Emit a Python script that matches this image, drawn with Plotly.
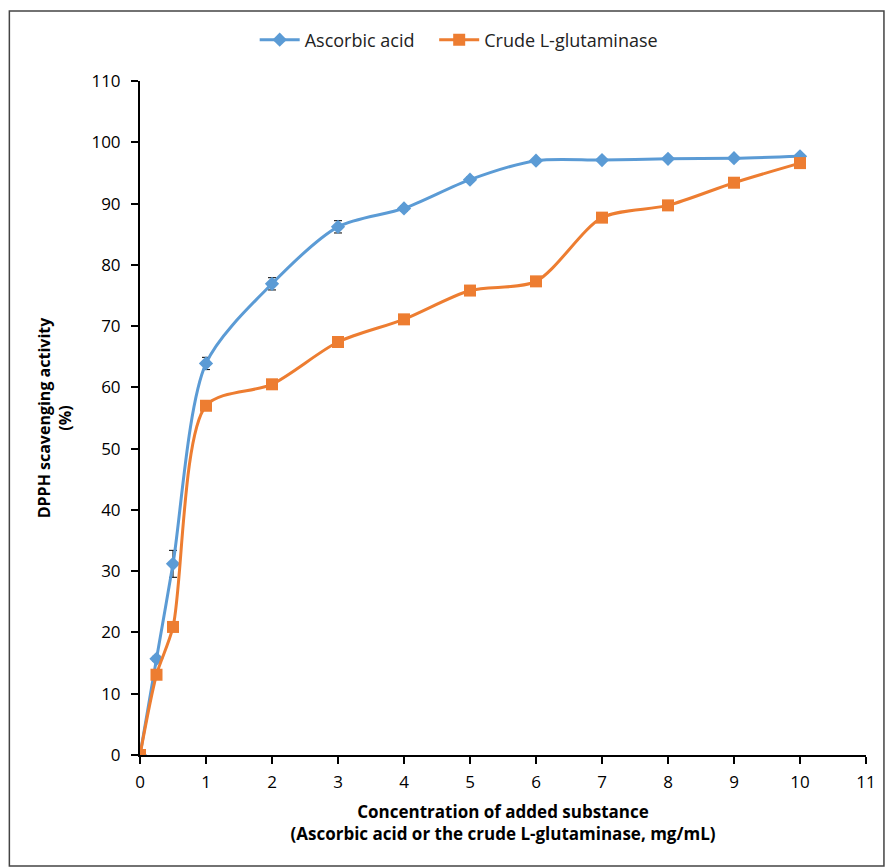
import plotly.graph_objects as go

conc = [0, 0.25, 0.5, 1, 2, 3, 4, 5, 6, 7, 8, 9, 10]
ascorbic = [0, 15.7, 31.2, 63.9, 76.9, 86.2, 89.2, 93.9, 97.0, 97.1, 97.3, 97.4, 97.7]
ascorbic_err = [0, 0.4, 2.2, 1.0, 1.0, 1.0, 0.4, 0.4, 0.3, 0.3, 0.3, 0.3, 0.3]
crude = [0, 13.1, 20.9, 57.0, 60.5, 67.4, 71.1, 75.8, 77.3, 87.7, 89.7, 93.4, 96.6]

x_ticks = list(range(0, 12))
y_ticks = list(range(0, 111, 10))

FONT = "Open Sans"

fig = go.Figure()
fig.add_trace(go.Scatter(
    x=conc, y=ascorbic, name="Ascorbic acid", mode="lines+markers",
    line=dict(color="#5B9BD5", width=3, shape="spline", smoothing=0.8),
    marker=dict(symbol="diamond", size=11, color="#5B9BD5"),
    error_y=dict(type="data", array=ascorbic_err, color="black", thickness=1, width=4),
    legend="legend",
))
fig.add_trace(go.Scatter(
    x=conc, y=crude, name="Crude L-glutaminase", mode="lines+markers",
    line=dict(color="#ED7D31", width=3, shape="spline", smoothing=0.8),
    marker=dict(symbol="square", size=12, color="#ED7D31"),
    legend="legend2",
))

L, R, T, B = 140, 20, 81, 112
W, H = 888, 867
pw, ph = W - L - R, H - T - B

leg_common = dict(orientation="h", xanchor="left", yanchor="middle",
                  y=(H - B - 40) / ph, font=dict(size=18, color="#222"),
                  itemwidth=40, bgcolor="rgba(0,0,0,0)")

fig.update_layout(
    width=W, height=H,
    margin=dict(l=L, r=R, t=T, b=B),
    paper_bgcolor="white", plot_bgcolor="white",
    font=dict(family=FONT, size=17, color="black"),
    showlegend=True,
    legend=dict(x=(255 - L) / pw, **leg_common),
    legend2=dict(x=(435 - L) / pw, **leg_common),
    xaxis=dict(range=[0, 11], tickvals=x_ticks, showline=True, linecolor="black",
               linewidth=2, ticks="outside", ticklen=7, tickwidth=1.5, tickcolor="black",
               ticklabelstandoff=4,
               showgrid=False, zeroline=False,
               title=dict(text="<b>Concentration of added substance<br>(Ascorbic acid or the crude L-glutaminase, mg/mL)</b>",
                          font=dict(size=17), standoff=14)),
    yaxis=dict(range=[0, 110], tickvals=y_ticks, showline=True, linecolor="black",
               linewidth=2, ticks="outside", ticklen=7, tickwidth=1.5, tickcolor="black",
               ticklabelstandoff=7,
               showgrid=False, zeroline=False,
               title=dict(text="<b>DPPH scavenging activity<br>(%)</b>",
                          font=dict(size=16), standoff=16)),
    shapes=[dict(type="rect", xref="paper", yref="paper",
                 x0=(9 - L) / pw, x1=(886 - L) / pw,
                 y0=(H - B - 866) / ph, y1=(H - B - 11) / ph,
                 line=dict(color="#444", width=1.5), fillcolor="rgba(0,0,0,0)", layer="below")],
)

fig.write_html("out.html")
